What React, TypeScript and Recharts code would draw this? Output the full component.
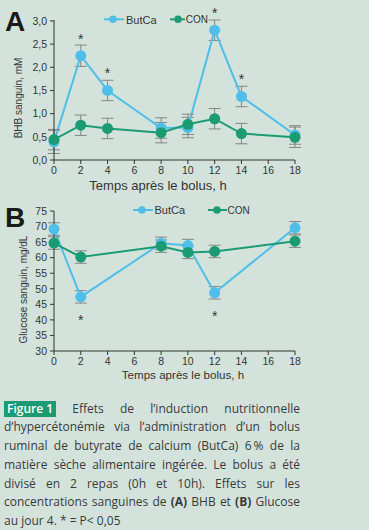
import React from 'react';
import { ComposedChart, Line, Scatter, XAxis, YAxis, ErrorBar, LabelList } from 'recharts';

const BG = '#d3e3db';
const BLUE = '#4fbfe9';
const GREEN = '#1b9b74';
const AXIS = '#333333';
const ERR = '#858585';

const hoursA = [0, 2, 4, 8, 10, 12, 14, 18];
const butcaA = [0.39, 2.25, 1.5, 0.69, 0.7, 2.8, 1.37, 0.54];
const butcaAErr = [0.25, 0.23, 0.22, 0.22, 0.22, 0.22, 0.22, 0.2];
const conA = [0.44, 0.75, 0.68, 0.59, 0.77, 0.89, 0.57, 0.49];
const conAErr = [0.22, 0.22, 0.22, 0.22, 0.22, 0.22, 0.22, 0.22];
const sigA = ['', '*', '*', '', '', '*', '*', ''];

const hoursB = [0, 2, 8, 10, 12, 18];
const butcaB = [69.2, 47.4, 64.6, 63.9, 48.7, 69.6];
const butcaBErr = [2, 2, 2, 2, 2, 2];
const conB = [64.7, 60.2, 63.7, 61.7, 62.0, 65.3];
const conBErr = [2, 2, 2, 2, 2, 2];
const sigB = ['', '*', '', '', '*', ''];

const xTicks = [0, 2, 4, 6, 8, 10, 12, 14, 16, 18];
const yTicksA = [0, 0.5, 1, 1.5, 2, 2.5, 3];
const yTicksB = [30, 35, 40, 45, 50, 55, 60, 65, 70, 75];

const dataA = hoursA.map((h, i) => ({
  h,
  but: butcaA[i],
  butErr: butcaAErr[i],
  con: conA[i],
  conErr: conAErr[i],
  sig: sigA[i],
}));
const dataB = hoursB.map((h, i) => ({
  h,
  but: butcaB[i],
  butErr: butcaBErr[i],
  con: conB[i],
  conErr: conBErr[i],
  sig: sigB[i],
}));

const CHART_FONT = '"Liberation Sans", Arial, sans-serif';
const tickStyle = { fill: AXIS, fontSize: 10.5, fontFamily: CHART_FONT };

const starAbove = (props: any) => {
  const { x, y, value } = props;
  if (!value) return null;
  return (
    <text x={x} y={y - 12} textAnchor="middle" fontSize={14} fill={AXIS} fontFamily={CHART_FONT}>
      {value}
    </text>
  );
};
const starBelow = (props: any) => {
  const { x, y, value } = props;
  if (!value) return null;
  return (
    <text x={x} y={y + 28} textAnchor="middle" fontSize={14} fill={AXIS} fontFamily={CHART_FONT}>
      {value}
    </text>
  );
};

const dotShape = (color: string) => (p: any) => <circle cx={p.cx} cy={p.cy} r={5.5} fill={color} />;

const fmtA = (v: number) => v.toFixed(1).replace('.', ',');

function Panel(props: { data: any[]; domain: [number, number]; ticks: number[]; fmt?: (v: number) => string; above: boolean }) {
  const { data, domain, ticks, fmt, above } = props;
  return (
    <ComposedChart width={369} height={194} data={data} margin={{ top: 20, right: 74, bottom: 14, left: 0 }}>
      <XAxis
        type="number"
        dataKey="h"
        domain={[0, 18]}
        ticks={xTicks}
        interval={0}
        tickSize={4}
        tickMargin={3}
        height={20}
        stroke={AXIS}
        tick={tickStyle}
        allowDecimals={false}
      />
      <YAxis
        type="number"
        domain={domain}
        ticks={ticks}
        interval={0}
        tickSize={4}
        tickMargin={3}
        width={54}
        stroke={AXIS}
        tick={tickStyle}
        tickFormatter={fmt}
      />
      <Line dataKey="but" stroke={BLUE} strokeWidth={2} dot={false} activeDot={false} isAnimationActive={false}>
        <ErrorBar dataKey="butErr" width={6} stroke={ERR} strokeWidth={1} direction="y" />
        <LabelList dataKey="sig" content={above ? starAbove : starBelow} />
      </Line>
      <Line dataKey="con" stroke={GREEN} strokeWidth={2} dot={false} activeDot={false} isAnimationActive={false}>
        <ErrorBar dataKey="conErr" width={6} stroke={ERR} strokeWidth={1} direction="y" />
      </Line>
      <Scatter dataKey="but" shape={dotShape(BLUE)} isAnimationActive={false} />
      <Scatter dataKey="con" shape={dotShape(GREEN)} isAnimationActive={false} />
    </ComposedChart>
  );
}

const captionLines: React.ReactNode[] = [
  <>
    <span
      style={{
        display: 'inline-block',
        background: GREEN,
        color: '#ffffff',
        padding: '0 3px',
        lineHeight: '16px',
        fontWeight: 600,
      }}
    >
      Figure 1
    </span>{' '}
    Effets de l’induction nutritionnelle
  </>,
  <>d’hypercétonémie via l’administration d’un bolus</>,
  <>ruminal de butyrate de calcium (ButCa) 6{'\u2009'}% de la</>,
  <>matière sèche alimentaire ingérée. Le bolus a été</>,
  <>divisé en 2 repas (0h et 10h). Effets sur les</>,
  <>
    concentrations sanguines de <b>(A)</b> BHB et <b>(B)</b> Glucose
  </>,
  <>au jour 4. * = P&lt; 0,05</>,
];

export default function App() {
  return (
    <div
      style={{
        position: 'absolute',
        left: 0,
        top: 0,
        width: 369,
        height: 530,
        background: BG,
        overflow: 'hidden',
      }}
    >
      <div style={{ position: 'absolute', left: 0, top: 0 }}>
        <Panel data={dataA} domain={[0, 3]} ticks={yTicksA} fmt={fmtA} above={true} />
      </div>
      <div style={{ position: 'absolute', left: 0, top: 191 }}>
        <Panel data={dataB} domain={[30, 75]} ticks={yTicksB} above={false} />
      </div>
      <svg
        width={369}
        height={400}
        style={{ position: 'absolute', left: 0, top: 0, pointerEvents: 'none' }}
        fontFamily={CHART_FONT}
      >
        <text x={5} y={31} fontSize={28} fontWeight="bold" fill="#1a1a1a">A</text>
        <text x={5} y={227} fontSize={28} fontWeight="bold" fill="#1a1a1a">B</text>

        <text x={22} y={98} fontSize={10} fill={AXIS} textAnchor="middle" transform="rotate(-90 22 98)">
          BHB sanguin, mM
        </text>
        <text x={27} y={289.5} fontSize={10} fill={AXIS} textAnchor="middle" transform="rotate(-90 27 289.5)">
          Glucose sanguin, mg/dL
        </text>

        <text x={158} y={189.5} fontSize={13} fill={AXIS} textAnchor="middle">Temps après le bolus, h</text>
        <text x={183} y={378.5} fontSize={11.6} fill={AXIS} textAnchor="middle">Temps après le bolus, h</text>

        <line x1={104} x2={124} y1={19.3} y2={19.3} stroke={BLUE} strokeWidth={2} />
        <circle cx={113} cy={19.3} r={3.8} fill={BLUE} />
        <text x={126} y={23.5} fontSize={11} fill={AXIS}>ButCa</text>
        <line x1={170} x2={185} y1={19.3} y2={19.3} stroke={GREEN} strokeWidth={2} />
        <circle cx={178} cy={19.3} r={3.8} fill={GREEN} />
        <text x={185.7} y={23.2} fontSize={10} fill={AXIS}>CON</text>

        <line x1={133} x2={153} y1={210} y2={210} stroke={BLUE} strokeWidth={2} />
        <circle cx={142} cy={210} r={3.8} fill={BLUE} />
        <text x={154.5} y={214} fontSize={11} fill={AXIS}>ButCa</text>
        <line x1={208} x2={227} y1={210} y2={210} stroke={GREEN} strokeWidth={2} />
        <circle cx={217} cy={210} r={3.8} fill={GREEN} />
        <text x={227.5} y={213.7} fontSize={10} fill={AXIS}>CON</text>
      </svg>
      <div
        style={{
          position: 'absolute',
          left: 4,
          top: 399.7,
          width: 296,
          fontFamily: '"Open Sans", sans-serif',
          fontSize: 12,
          lineHeight: '18.7px',
          color: '#3a3a3a',
        }}
      >
        {captionLines.map((ln, i) => (
          <div
            key={i}
            style={{
              textAlign: 'justify',
              textAlignLast: i === captionLines.length - 1 ? 'left' : 'justify',
              whiteSpace: 'nowrap',
            }}
          >
            {ln}
          </div>
        ))}
      </div>
    </div>
  );
}
